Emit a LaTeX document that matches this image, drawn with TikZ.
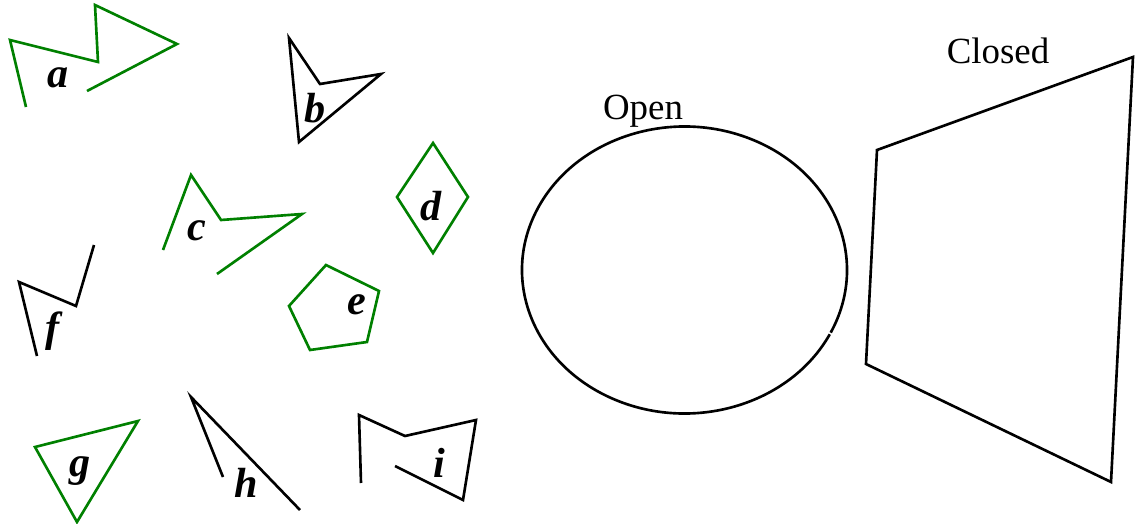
\documentclass[tikz,border=0pt]{standalone}
\usepackage{fontspec}
\setmainfont{Liberation Serif}

\begin{document}
\begin{tikzpicture}[x=0.02cm, y=-0.02cm,
  lbl/.style = {inner sep=0pt, font=\fontsize{24}{24}\selectfont\bfseries\itshape},
  ttl/.style = {inner sep=0pt, font=\fontsize{21}{21}\selectfont},
  grn/.style = {draw=green!50!black, line width=1.5pt},
  blk/.style = {draw=black, line width=1.5pt}
  ]
  \useasboundingbox (0,0) rectangle (1136,524);

  % small figures
  \draw[grn] (26,107) -- (10,40) -- (98,62) -- (95,5) -- (177,44) -- (87,91);
  \draw[blk] (289,38) -- (320,84) -- (381,74) -- (299,142) -- cycle;
  \draw[grn] (163,250) -- (191,175) -- (221,220) -- (302,214) -- (217,274);
  \draw[grn] (433,143) -- (468,197) -- (433,253) -- (397,197) -- cycle;
  \draw[grn] (326,265) -- (379,291) -- (367,342) -- (310,350) -- (289,306) -- cycle;
  \draw[blk] (37,356) -- (19,282) -- (76,306) -- (94,245);
  \draw[grn] (35,447) -- (138,421) -- (77,522) -- cycle;
  \draw[blk] (223,477) -- (191,397) -- (300,510);
  \draw[blk] (361,483) -- (359,415) -- (405,436) -- (476,420) -- (463,500) -- (395,466);

  \node[lbl] (a) at (58,78)  {a};
  \node[lbl] (b) at (315,108) {b};
  \node[lbl] (c) at (197,231) {c};
  \node[lbl] (d) at (431,206) {d};
  \node[lbl] (e) at (357,305) {e};
  \node[lbl] (f) at (53,331)  {f};
  \node[lbl] (g) at (80,471)  {g};
  \node[lbl] (h) at (246,483) {h};
  \node[lbl] (i) at (439,463) {i};

  % open and closed
  \draw[blk] (684.5,270) ++(26.6:162.5 and 143.5)
    arc[start angle=26.6, end angle=385.9, x radius=162.5, y radius=143.5];
  \draw[blk] (877,150) -- (1133,57) -- (1111,482) -- (866,364) -- cycle;

  \node[ttl] (open)   at (643,111) {Open};
  \node[ttl] (closed) at (998,51)  {Closed};
\end{tikzpicture}
\end{document}
